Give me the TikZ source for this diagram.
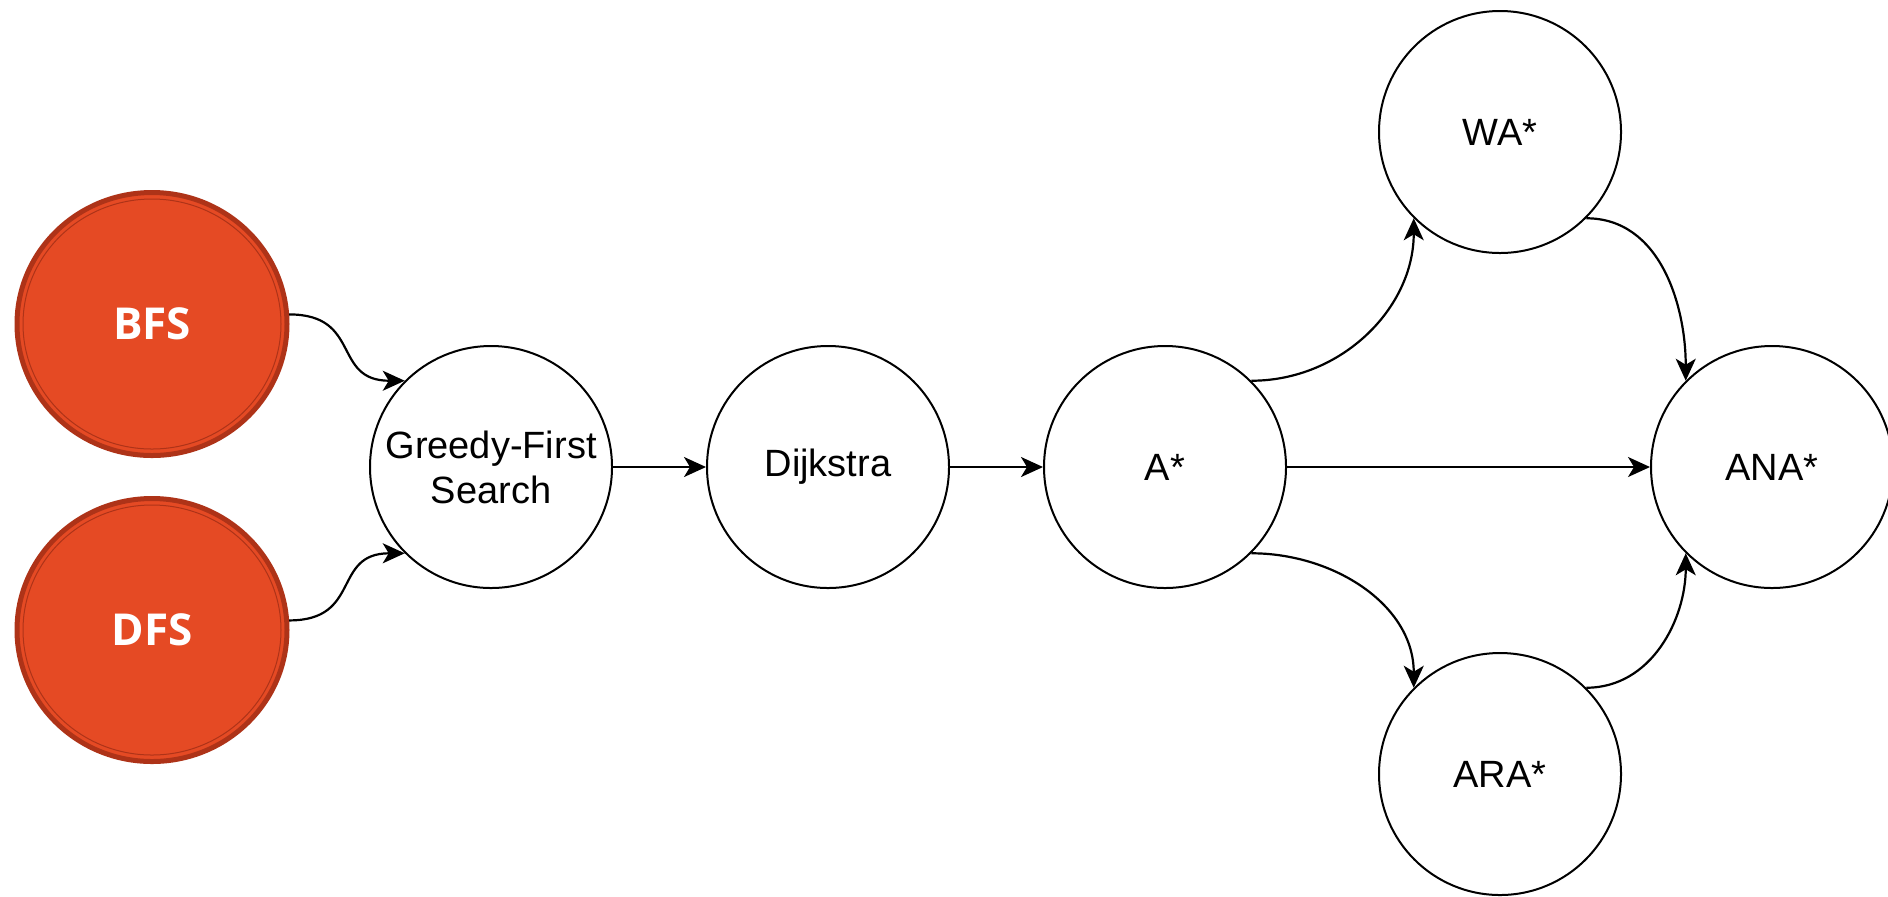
\documentclass[tikz,border=0pt]{standalone}
\usepackage{fontspec}
\setmainfont{Liberation Sans}
\newfontfamily\opensans{Open Sans}
\usetikzlibrary{arrows.meta}
\usetikzlibrary{shapes.geometric}

\definecolor{bfsfill}{RGB}{229,74,36}
\definecolor{bfsedge}{RGB}{174,51,24}

\begin{document}
\begin{tikzpicture}[x=0.5pt, y=-0.5pt,
  algo/.style={circle, draw=black, line width=1pt, fill=white, minimum size=121pt,
    inner sep=0pt, align=center, font=\fontsize{19}{22.5}\selectfont},
  uninf/.style={ellipse, draw=bfsedge, line width=2.5pt, fill=bfsfill, minimum width=135pt,
    minimum height=131.5pt, inner sep=0pt, text=white, font=\opensans\bfseries\fontsize{22}{26}\selectfont},
  flow/.style={-{Stealth[length=11pt, width=10pt, inset=3pt]}, line width=1.1pt}]

  \def\rowy{467}
  \def\topy{132}
  \def\boty{774}
  \def\ringx{64.5pt}
  \def\ringy{62.5pt}

  \useasboundingbox (0,0) rectangle (1888,896);

  % uninformed searches
  \node[uninf] (bfs) at (152,324) {BFS};
  \node[uninf] (dfs) at (152,630) {DFS};
  \foreach \n in {bfs,dfs}
    \draw[bfsedge, line width=0.5pt] (\n.center) ellipse [x radius=\ringx, y radius=\ringy];

  % main row
  \node[algo] (greedy) at (491,\rowy) {Greedy-First\\Search};
  \node[algo] (dijkstra) at (828,\rowy) {Dijkstra};
  \node[algo] (astar) at (1165,\rowy) {A*};
  \node[algo] (anastar) at (1772,\rowy) {ANA*};

  % branches
  \node[algo] (wastar) at (1500,\topy) {WA*};
  \node[algo] (arastar) at (1500,\boty) {ARA*};

  % edges
  \draw[flow] (bfs.4) to[out=0, in=180, looseness=1.4] (greedy.135);
  \draw[flow] (dfs.4) to[out=0, in=180, looseness=1.4] (greedy.225);
  \draw[flow] (greedy) -- (dijkstra);
  \draw[flow] (dijkstra) -- (astar);
  \draw[flow] (astar) -- (anastar);
  \draw[flow] (astar.45) to[out=0, in=-90] (wastar.225);
  \draw[flow] (astar.-45) to[out=0, in=90] (arastar.135);
  \draw[flow] (wastar.-45) to[out=0, in=90] (anastar.135);
  \draw[flow] (arastar.45) to[out=0, in=-90] (anastar.225);

\end{tikzpicture}
\end{document}
